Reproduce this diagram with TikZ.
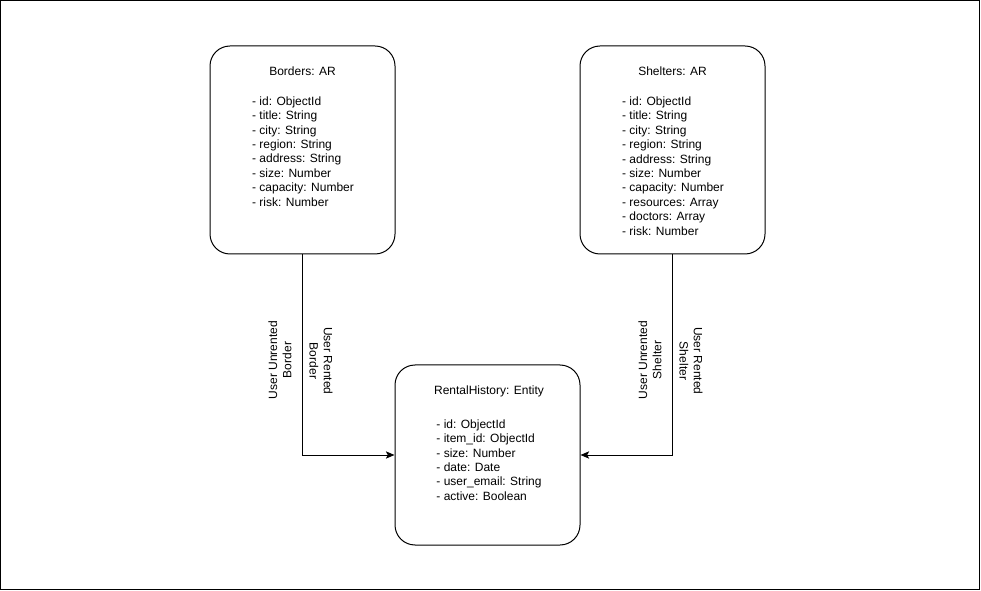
\documentclass[tikz,border=0pt]{standalone}
\usepackage{fontspec}
\setmainfont{Liberation Sans}
\usepackage{tikz}
\usetikzlibrary{positioning,arrows.meta}
\tikzset{
  flowarrow/.style={-{Stealth[length=6.5pt, width=5.5pt, inset=1.5pt]}, line width=0.75pt},
  entitybox/.style={draw, rounded corners=15pt, line width=0.75pt, minimum width=138.75pt, inner sep=0pt},
  titletext/.style={inner sep=0pt, align=center},
  fieldtext/.style={inner sep=0pt, align=left},
  relabel/.style={inner sep=0pt, align=center}
}

\begin{document}
\begin{tikzpicture}[x=0.75pt, y=-0.75pt, every node/.style={font=\fontsize{9}{10.8}\selectfont}]
      \useasboundingbox (0,0) rectangle (981,591);
      \draw[line width=0.75pt] (0.5,0.5) rectangle (979.5,589.5);
      % aggregates
      \node[entitybox, minimum height=156pt] (borders) at (302.5,150) {};
      \node[entitybox, minimum height=156pt] (shelters) at (672.5,150) {};
      \node[entitybox, minimum height=135pt] (rental) at (487.5,455) {};
      \node[titletext] (bordersTitle) at (302.5,71.7) {Borders: AR};
      \node[fieldtext] (bordersFields) at (303,151.5) {- id: ObjectId\\- title: String\\- city: String\\- region: String\\- address: String\\- size: Number\\- capacity: Number\\- risk: Number};
      \node[titletext] (sheltersTitle) at (672.5,71.7) {Shelters: AR};
      \node[fieldtext] (sheltersFields) at (673,166) {- id: ObjectId\\- title: String\\- city: String\\- region: String\\- address: String\\- size: Number\\- capacity: Number\\- resources: Array\\- doctors: Array\\- risk: Number};
      \node[titletext] (rentalTitle) at (489,391.7) {RentalHistory: Entity};
      \node[fieldtext] (rentalFields) at (489,460) {- id: ObjectId\\- item\_id: ObjectId\\- size: Number\\- date: Date\\- user\_email: String\\- active: Boolean};
      % relations
      \draw[flowarrow] (borders.south) |- (rental.west);
      \draw[flowarrow] (shelters.south) |- (rental.east);
      \node[relabel, rotate=90] (unrentBorder) at (280,360) {User Unrented\\Border};
      \node[relabel, rotate=-90] (rentBorder) at (321,361) {User Rented\\Border};
      \node[relabel, rotate=90] (unrentShelter) at (650,360) {User Unrented\\Shelter};
      \node[relabel, rotate=-90] (rentShelter) at (691,361) {User Rented\\Shelter};
    \end{tikzpicture}
\end{document}
